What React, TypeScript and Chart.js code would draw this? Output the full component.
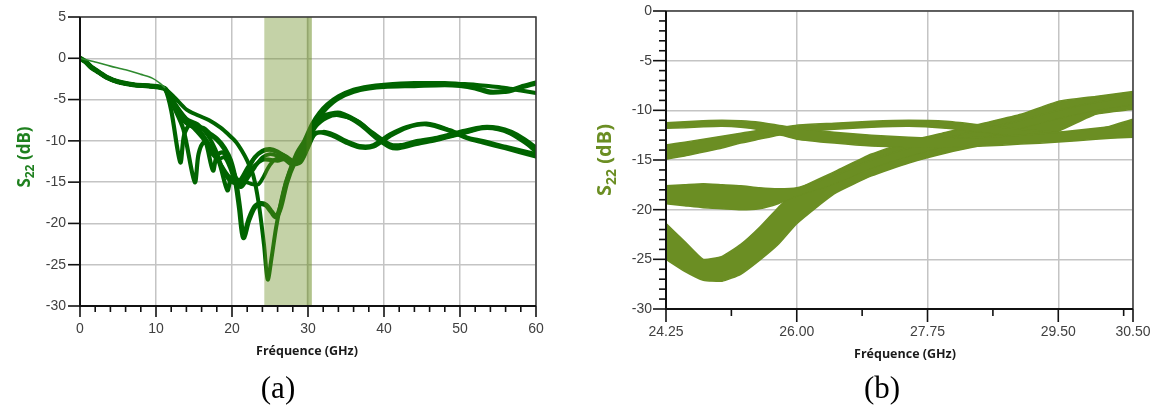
import React, { useEffect, useRef } from "react";
import { Chart, registerables } from "chart.js";

Chart.register(...registerables);

// ---------------- Panel (a): S22 over 0–60 GHz ----------------
const xTicksA = [0, 10, 20, 30, 40, 50, 60];
const yTicksA = [5, 0, -5, -10, -15, -20, -25, -30];
const shadeA = [24.25, 30.5];
const shadeEdgeA = [29.8, 30.5];

const startA: number[][] = [[0, 0], [0.7, -0.4], [1.5, -1.1], [2.5, -1.7], [3.5, -2.3], [5, -2.85], [7, -3.2], [9, -3.35], [10.5, -3.5]];
const thinA: number[][] = [[0, 0], [2, -0.45], [4, -0.95], [6, -1.4], [8, -1.95], [9.5, -2.4], [10.5, -3.0], [11.2, -3.6]];

const curveD: number[][] = [...startA, [11.2, -3.7], [12.5, -4.8], [14, -6.2], [15.5, -6.9], [17, -7.5], [18.5, -8.4], [19.5, -9.2], [20.5, -10.1], [21.3, -11.2], [22, -12.4], [22.8, -14.2], [23.5, -17.5], [24.2, -22.5], [24.7, -26.8], [25.2, -24.2], [25.8, -20.5], [26.5, -17.2], [27.2, -14.7], [28.5, -11.5], [29.5, -10.0], [30.5, -8.0], [31.5, -6.6], [32.5, -5.6], [34, -4.6], [36, -3.8], [38, -3.4], [40, -3.2], [44, -3.0], [48, -3.0], [50, -3.1], [52, -3.2], [54, -3.4], [56, -3.6], [58, -3.9], [60, -4.2]];
const curveE: number[][] = [...startA, [11.2, -3.7], [12, -5.0], [13, -6.6], [14, -7.8], [15, -8.3], [16.2, -8.5], [17, -9.1], [18, -9.8], [19, -10.9], [19.8, -12.4], [20.5, -15.0], [21, -18.2], [21.5, -21.7], [22.2, -19.6], [23, -18.0], [23.8, -17.6], [24.5, -17.8], [25.2, -18.6], [25.8, -19.2], [26.4, -18.0], [27.2, -15.0], [28.2, -12.6], [29.3, -11.0], [30.5, -8.5], [31.5, -7.0], [32.5, -5.9], [34, -4.8], [36, -4.0], [38, -3.6], [40, -3.4], [44, -3.3], [48, -3.2], [50, -3.3], [52, -3.6], [54, -4.1], [56, -4.0], [57, -3.8], [58, -3.5], [60, -3.0]];
const curveA1: number[][] = [...startA, [11.2, -3.7], [12, -6.3], [13.2, -12.6], [13.7, -9.3], [14.5, -8.0], [15.5, -8.6], [16.5, -10.0], [17.5, -13.6], [18, -11.8], [18.8, -11.4], [19.8, -12.8], [20.6, -14.6], [21.4, -14.8], [22.2, -13.3], [23, -12.0], [24, -11.2], [25, -11.0], [26, -11.3], [27, -11.9], [28, -12.6], [28.8, -12.4], [29.6, -11.2], [30.5, -8.6], [31.5, -7.2], [33, -6.7], [34.2, -6.6], [36.8, -7.8], [38.5, -9.2], [40.8, -10.6], [42, -10.7], [44.3, -10.2], [46.9, -9.8], [50.4, -9.0], [53, -8.4], [55, -8.5], [56.6, -9.0], [58.5, -10.0], [60, -11.0]];
const curveG: number[][] = [...startA, [11.2, -3.7], [12.8, -6.0], [14.2, -7.6], [15.5, -8.5], [17, -10.4], [18.5, -12.8], [19.5, -14.2], [20.5, -14.8], [21.5, -14.9], [22.5, -15.2], [23.4, -15.3], [24, -14.6], [24.8, -13.2], [25.6, -12.3], [26.5, -12.0], [27.5, -12.4], [28.5, -12.2], [29.5, -10.6], [30.5, -8.9], [31.5, -7.5], [33, -6.9], [34.5, -6.9], [36.8, -8.0], [39, -9.7], [40.8, -10.8], [42, -10.9], [44.3, -10.4], [46.9, -9.9], [50.4, -9.1], [53, -8.5], [55, -8.6], [56.6, -9.1], [58.5, -10.2], [60, -11.3]];
const curveH: number[][] = [...startA, [11.2, -3.7], [12.3, -5.2], [13.4, -6.9], [14.4, -7.9], [15.4, -8.9], [16.4, -10.0], [17.4, -11.6], [18.2, -12.2], [19, -12.0], [19.8, -13.4], [20.5, -15.2], [21.2, -15.6], [22, -14.6], [23, -13.2], [24, -12.0], [25, -11.6], [26, -11.8], [27, -12.3], [28, -12.9], [29, -12.0], [30, -10.2], [31, -8.3], [32.5, -7.2], [34, -6.9], [36.5, -7.6], [38.5, -9.0], [40.8, -10.4], [42.2, -10.5], [44.3, -10.0], [47, -9.6], [50.4, -8.8], [53, -8.3], [55, -8.4], [56.8, -8.9], [58.5, -9.8], [60, -10.8]];
const curveA2: number[][] = [...startA, [11.2, -3.7], [12.3, -5.8], [13.6, -8.6], [15.1, -15.0], [15.6, -11.6], [16.3, -10.2], [17.2, -10.9], [18.3, -12.6], [19.4, -16.0], [19.9, -14.5], [20.6, -14.8], [21.3, -15.3], [22, -14.3], [23, -13.0], [24, -12.3], [25, -12.3], [26, -12.4], [27, -12.2], [28, -12.8], [29, -12.6], [30, -10.8], [31.1, -9.0], [33.3, -9.4], [35, -10.2], [36.8, -10.8], [38.6, -10.7], [40.8, -9.4], [43, -8.4], [45.6, -8.0], [48.7, -8.8], [51, -9.7], [53, -10.2], [56, -10.9], [60, -11.9]];
const curveL: number[][] = [...startA, [11.2, -3.7], [12.5, -5.5], [14, -7.3], [15.5, -8.0], [16.8, -9.3], [17.8, -11.0], [18.6, -13.0], [19.4, -14.5], [20.2, -15.1], [21, -14.8], [22, -13.3], [23, -12.0], [24, -11.3], [25, -11.1], [26, -11.4], [27.2, -11.9], [28.5, -12.7], [29.4, -11.9], [30.7, -9.4], [32, -8.9], [33.3, -9.2], [35, -10.0], [36.8, -10.6], [38.6, -10.5], [40.8, -9.2], [43, -8.3], [45.6, -7.9], [48.7, -8.7], [51, -9.6], [53, -10.0], [56, -10.7], [60, -11.6]];
const curvesA = [curveD, curveE, curveA1, curveG, curveH, curveA2, curveL];
const widthsA = [4, 5.2, 4.2, 3.8, 3.8, 4.2, 3.8];

// ---------------- Panel (b): zoom 24.25–30.5 GHz ----------------
const xTicksB = [24.25, 26.0, 27.75, 29.5, 30.5];
const xMinorB = [25.125, 26.875, 28.625, 30.375];
const yTicksB = [0, -5, -10, -15, -20, -25, -30];
const freqB = [24.25, 24.5, 24.75, 25, 25.25, 25.5, 25.75, 26, 26.5, 27, 27.5, 28, 28.5, 29, 29.5, 30, 30.5];
const band1Hi = [-11.25, -11.15, -11.05, -11.0, -11.05, -11.2, -11.5, -11.8, -12.2, -12.5, -12.7, -12.8, -12.7, -12.5, -12.2, -11.8, -11.4];
const band1Lo = [-11.8, -11.75, -11.65, -11.6, -11.7, -11.95, -12.4, -12.9, -13.3, -13.6, -13.7, -13.7, -13.6, -13.4, -13.2, -12.9, -12.7];
const band2Hi = [-13.5, -13.2, -12.9, -12.6, -12.3, -12.0, -11.8, -11.5, -11.3, -11.1, -11.0, -11.1, -11.5, -11.9, -12.2, -12.0, -10.9];
const band2Lo = [-14.9, -14.6, -14.2, -13.8, -13.3, -12.9, -12.5, -12.2, -11.9, -11.7, -11.6, -11.8, -12.2, -12.6, -12.9, -12.7, -12.2];
const band3Hi = [-21.4, -23.2, -25.0, -24.7, -23.5, -21.8, -19.8, -18.0, -16.2, -14.4, -13.1, -12.2, -11.3, -10.4, -9.1, -8.6, -8.1];
const band3Lo = [-25.0, -26.2, -27.1, -27.2, -26.5, -25.1, -23.5, -21.4, -18.4, -16.6, -15.3, -14.3, -13.5, -12.8, -12.1, -10.4, -9.9];
const band4Hi = [-17.6, -17.5, -17.4, -17.5, -17.6, -17.8, -17.9, -17.8, -16.6, -15.0, -13.8, -12.8, -11.9, -11.0, -10.0, -9.2, -8.6];
const band4Lo = [-19.4, -19.6, -19.8, -19.9, -20.0, -19.9, -19.4, -18.6, -17.4, -15.8, -14.6, -13.6, -12.7, -11.8, -10.8, -10.0, -9.4];
const bandsB = [[band1Hi, band1Lo], [band2Hi, band2Lo], [band4Hi, band4Lo], [band3Hi, band3Lo]];

// ---------------- styles ----------------
const GREEN_A = "#006400";
const OLIVE = "#6b8e23";
const GRID = "#c4c4c4";
const TICKC = "#404040";
const TICK_FONT = { family: "Liberation Sans", size: 14 };

function line(ctx: CanvasRenderingContext2D, x1: number, y1: number, x2: number, y2: number) {
  ctx.beginPath();
  ctx.moveTo(x1, y1);
  ctx.lineTo(x2, y2);
  ctx.stroke();
}

function drawFrame(chart: any) {
  const { ctx, chartArea: ca } = chart;
  ctx.strokeStyle = "#3a3a3a";
  ctx.lineWidth = 1.5;
  ctx.beginPath();
  ctx.moveTo(ca.left, ca.top);
  ctx.lineTo(ca.right, ca.top);
  ctx.lineTo(ca.right, ca.bottom);
  ctx.stroke();
  ctx.strokeStyle = "#111";
  ctx.lineWidth = 2;
  ctx.beginPath();
  ctx.moveTo(ca.left, ca.top);
  ctx.lineTo(ca.left, ca.bottom);
  ctx.lineTo(ca.right, ca.bottom);
  ctx.stroke();
}

function drawYTitle(ctx: CanvasRenderingContext2D, cx: number, cy: number, size: number, color: string) {
  ctx.save();
  ctx.translate(cx, cy);
  ctx.rotate(-Math.PI / 2);
  const big = `bold ${size}px "Open Sans"`;
  const small = `bold ${Math.round(size * 0.68)}px "Open Sans"`;
  ctx.font = big;
  const wS = ctx.measureText("S").width;
  const wR = ctx.measureText(" (dB)").width;
  ctx.font = small;
  const w22 = ctx.measureText("22").width;
  let xx = -(wS + w22 + wR) / 2;
  ctx.fillStyle = color;
  ctx.textAlign = "left";
  ctx.textBaseline = "alphabetic";
  ctx.font = big;
  ctx.fillText("S", xx, 0);
  xx += wS;
  ctx.font = small;
  ctx.fillText("22", xx, size * 0.25);
  xx += w22;
  ctx.font = big;
  ctx.fillText(" (dB)", xx, 0);
  ctx.restore();
}

function drawXTitle(ctx: CanvasRenderingContext2D, cx: number, cy: number) {
  ctx.save();
  ctx.font = 'bold 12.5px "Open Sans"';
  ctx.fillStyle = "#1a1a1a";
  ctx.textAlign = "center";
  ctx.textBaseline = "middle";
  ctx.fillText("Fréquence (GHz)", cx, cy);
  ctx.restore();
}

const panelAPlugin = {
  id: "panelA",
  afterDatasetsDraw(chart: any) {
    const { ctx, chartArea: ca, scales } = chart;
    const x = scales.x;
    ctx.save();
    const x0 = x.getPixelForValue(shadeA[0]);
    const x1 = x.getPixelForValue(shadeA[1]);
    ctx.fillStyle = "rgba(107,142,35,0.4)";
    ctx.fillRect(x0, ca.top, x1 - x0, ca.bottom - ca.top);
    const e0 = x.getPixelForValue(shadeEdgeA[0]);
    const e1 = x.getPixelForValue(shadeEdgeA[1]);
    ctx.fillStyle = "rgba(107,142,35,0.22)";
    ctx.fillRect(e0, ca.top, e1 - e0, ca.bottom - ca.top);
    ctx.restore();
  },
  afterDraw(chart: any) {
    const { ctx, chartArea: ca, scales } = chart;
    const x = scales.x;
    const y = scales.y;
    ctx.save();
    drawFrame(chart);
    ctx.strokeStyle = "#111";
    ctx.lineWidth = 1.6;
    yTicksA.forEach((v) => {
      const py = y.getPixelForValue(v);
      line(ctx, ca.left - 12, py, ca.left, py);
    });
    for (let v = xTicksA[0]; v <= xTicksA[xTicksA.length - 1]; v += 2) {
      const px = x.getPixelForValue(v);
      line(ctx, px, ca.bottom, px, ca.bottom + (v % 10 === 0 ? 11 : 6));
    }
    drawYTitle(ctx, 30, 157, 17, "#1f801f");
    drawXTitle(ctx, 307, 351);
    ctx.restore();
  },
};

const panelBPlugin = {
  id: "panelB",
  afterDraw(chart: any) {
    const { ctx, chartArea: ca, scales } = chart;
    const x = scales.x;
    const y = scales.y;
    ctx.save();
    drawFrame(chart);
    ctx.strokeStyle = "#111";
    ctx.lineWidth = 1.6;
    for (let v = yTicksB[0]; v >= yTicksB[yTicksB.length - 1]; v -= 1) {
      const py = y.getPixelForValue(v);
      line(ctx, ca.left - (v % 5 === 0 ? 13 : 7), py, ca.left, py);
    }
    xTicksB.forEach((v) => {
      const px = x.getPixelForValue(v);
      line(ctx, px, ca.bottom, px, ca.bottom + 13);
    });
    xMinorB.forEach((v) => {
      const px = x.getPixelForValue(v);
      line(ctx, px, ca.bottom, px, ca.bottom + 7);
    });
    drawYTitle(ctx, 36, 160, 20, OLIVE);
    drawXTitle(ctx, 330, 354);
    ctx.restore();
  },
};

function toPts(arr: number[][]) {
  return arr.map(([f, v]) => ({ x: f, y: v }));
}

// fix the scale box: exact size and no extra label padding
function fixBox(size: number, horizontal: boolean) {
  return (s: any) => {
    if (horizontal) s.height = size;
    else s.width = size;
    s.paddingTop = 0;
    s.paddingBottom = 0;
    s.paddingLeft = 0;
    s.paddingRight = 0;
  };
}

function axisCfg(ticks: number[], min: number, max: number, size: number, horizontal: boolean, fmt: (v: number) => string, pad: number) {
  return {
    type: "linear",
    min,
    max,
    afterBuildTicks: (s: any) => {
      s.ticks = ticks.map((v) => ({ value: v }));
    },
    afterFit: fixBox(size, horizontal),
    grid: { color: GRID, lineWidth: 1.5, drawTicks: false },
    border: { display: false },
    ticks: { padding: pad, color: TICKC, font: TICK_FONT, maxRotation: 0, autoSkip: false, callback: (v: any) => fmt(Number(v)) },
  };
}

export default function App() {
  const refA = useRef<HTMLCanvasElement>(null);
  const refB = useRef<HTMLCanvasElement>(null);

  useEffect(() => {
    const datasetsA: any[] = [
      { data: toPts(thinA), borderColor: "#2f8a2f", borderWidth: 1.6, pointRadius: 0, tension: 0.3, fill: false },
      ...curvesA.map((c, i) => ({
        data: toPts(c),
        borderColor: GREEN_A,
        borderWidth: widthsA[i],
        pointRadius: 0,
        tension: 0.3,
        fill: false,
        borderJoinStyle: "round",
        borderCapStyle: "round",
      })),
    ];

    const chartA = new Chart(refA.current!, {
      type: "line",
      data: { datasets: datasetsA },
      options: {
        responsive: false,
        animation: false,
        parsing: false as any,
        layout: { padding: { left: 0, right: 39, top: 17, bottom: 0 } },
        plugins: { legend: { display: false }, tooltip: { enabled: false } },
        scales: {
          x: axisCfg(xTicksA, 0, 60, 101, true, (v) => String(v), 15),
          y: axisCfg(yTicksA, -30, 5, 80, false, (v) => String(v), 14),
        },
      } as any,
      plugins: [panelAPlugin],
    });

    const datasetsB: any[] = [];
    bandsB.forEach(([hi, lo]) => {
      datasetsB.push({
        data: freqB.map((f, i) => ({ x: f, y: hi[i] })),
        borderColor: OLIVE,
        backgroundColor: OLIVE,
        borderWidth: 1.5,
        pointRadius: 0,
        tension: 0.15,
        fill: "+1",
      });
      datasetsB.push({
        data: freqB.map((f, i) => ({ x: f, y: lo[i] })),
        borderColor: OLIVE,
        borderWidth: 1.5,
        pointRadius: 0,
        tension: 0.15,
        fill: false,
      });
    });

    const chartB = new Chart(refB.current!, {
      type: "line",
      data: { datasets: datasetsB },
      options: {
        responsive: false,
        animation: false,
        parsing: false as any,
        layout: { padding: { left: 0, right: 23, top: 11, bottom: 0 } },
        plugins: { legend: { display: false }, tooltip: { enabled: false } },
        scales: {
          x: axisCfg(xTicksB, xTicksB[0], xTicksB[xTicksB.length - 1], 98, true, (v) => v.toFixed(2), 15),
          y: axisCfg(yTicksB, -30, 0, 91, false, (v) => String(v), 14),
        },
      } as any,
      plugins: [panelBPlugin],
    });

    return () => {
      chartA.destroy();
      chartB.destroy();
    };
  }, []);

  const capStyle = (left: number): React.CSSProperties => ({
    position: "absolute",
    left,
    top: 372,
    width: 100,
    textAlign: "center",
    fontFamily: '"Liberation Serif", "Times New Roman", serif',
    fontSize: 31,
    lineHeight: "31px",
    color: "#000",
  });

  return (
    <div style={{ position: "absolute", left: 0, top: 0, width: 1156, height: 407, background: "#fff", overflow: "hidden" }}>
      <canvas ref={refA} width={575} height={407} style={{ position: "absolute", left: 0, top: 0, width: 575, height: 407 }} />
      <canvas ref={refB} width={581} height={407} style={{ position: "absolute", left: 575, top: 0, width: 581, height: 407 }} />
      <div style={capStyle(228)}>(a)</div>
      <div style={capStyle(832)}>(b)</div>
    </div>
  );
}
